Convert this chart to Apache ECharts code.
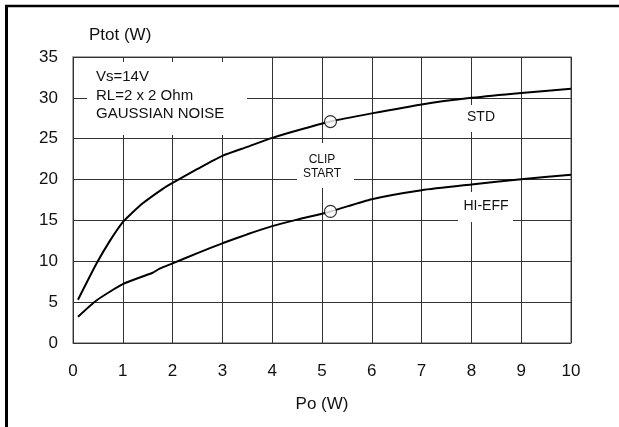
<!DOCTYPE html>
<html>
<head>
<meta charset="utf-8">
<script src="https://cdn.jsdelivr.net/npm/echarts@6/dist/echarts.min.js"></script>
<style>
  html, body { margin: 0; padding: 0; background: #fff; }
  #chart { width: 619px; height: 427px; }
</style>
</head>
<body>
<div id="chart"></div>
<script>
// Total dissipated power vs output power, two amplifier modes
const xTicks = [0, 1, 2, 3, 4, 5, 6, 7, 8, 9, 10];
const yTicks = [0, 5, 10, 15, 20, 25, 30, 35];

const stdPo   = [0.1, 0.47, 0.74, 1.0, 1.2, 1.4, 1.81, 2.0, 2.5, 3.0, 3.5, 4.0, 4.5, 5.17, 6, 7, 8, 9, 10];
const stdPtot = [5.3, 9.7, 12.5, 14.8, 16.0, 17.1, 18.9, 19.6, 21.3, 22.9, 24.0, 25.1, 26.0, 27.1, 28.1, 29.2, 30.0, 30.6, 31.1];

const hiPo    = [0.1, 0.47, 1.0, 1.6, 1.74, 2.0, 2.5, 3.0, 3.5, 4.0, 4.5, 5.17, 6, 7, 8, 9, 10];
const hiPtot  = [3.2, 5.2, 7.2, 8.6, 9.1, 9.75, 11.0, 12.2, 13.3, 14.3, 15.1, 16.1, 17.6, 18.7, 19.4, 20.05, 20.6];

// clipping onset on each curve
const clipPo   = [5.17, 5.17];
const clipPtot = [27.1, 16.1];

const FONT = '"Liberation Sans", Arial, Helvetica, sans-serif';
const zip = (xs, ys) => xs.map((x, i) => [x, ys[i]]);

const chart = echarts.init(document.getElementById('chart'), null, { renderer: 'canvas' });

chart.setOption({
  animation: false,
  backgroundColor: '#fff',
  grid: {
    left: 73, right: 48, top: 57, bottom: 84,
    show: true, borderColor: '#8a8a8a', borderWidth: 1.5, backgroundColor: 'transparent'
  },
  xAxis: {
    type: 'value',
    min: xTicks[0], max: xTicks[xTicks.length - 1], interval: 1,
    name: 'Po (W)', nameLocation: 'middle', nameGap: 53,
    nameTextStyle: { fontFamily: FONT, fontSize: 17, color: '#111' },
    axisLine: { show: false }, axisTick: { show: false },
    axisLabel: { fontFamily: FONT, fontSize: 17, color: '#111', margin: 20 },
    splitLine: { show: true, lineStyle: { color: '#333', width: 1 } }
  },
  yAxis: {
    type: 'value',
    min: yTicks[0], max: yTicks[yTicks.length - 1], interval: 5,
    name: 'Ptot (W)', nameLocation: 'end', nameGap: 13,
    nameTextStyle: { fontFamily: FONT, fontSize: 17, color: '#111', align: 'left', padding: [0, 0, 0, 16] },
    axisLine: { show: false }, axisTick: { show: false },
    axisLabel: { fontFamily: FONT, fontSize: 17, color: '#111', margin: 15 },
    splitLine: { show: true, lineStyle: { color: '#333', width: 1 } }
  },
  series: [
    {
      name: 'STD', type: 'line', data: zip(stdPo, stdPtot),
      smooth: 0.2, showSymbol: false, z: 5,
      lineStyle: { color: '#000', width: 2 }
    },
    {
      name: 'HI-EFF', type: 'line', data: zip(hiPo, hiPtot),
      smooth: 0.2, showSymbol: false, z: 5,
      lineStyle: { color: '#000', width: 2 }
    },
    {
      name: 'CLIP START', type: 'scatter', data: zip(clipPo, clipPtot),
      symbol: 'circle', symbolSize: 12, z: 10,
      itemStyle: { color: '#fff', borderColor: '#000', borderWidth: 1.2 }
    }
  ],
  graphic: [
    // page frame lines
    { type: 'line', z: 200, shape: { x1: 5, y1: 6, x2: 619, y2: 6 }, style: { stroke: '#000', lineWidth: 2.5 } },
    { type: 'line', z: 200, shape: { x1: 6.5, y1: 5, x2: 6.5, y2: 427 }, style: { stroke: '#000', lineWidth: 3 } },

    // test conditions
    { type: 'rect', z: 100, shape: { x: 87, y: 62, width: 160, height: 73 }, style: { fill: '#fff' } },
    { type: 'text', z: 101, left: 96, top: 68,
      style: { text: 'Vs=14V\nRL=2 x 2 Ohm\nGAUSSIAN NOISE', font: '15px ' + FONT, fill: '#111', lineHeight: 18.5 } },

    // clip start marker label
    { type: 'rect', z: 100, shape: { x: 297, y: 143, width: 57, height: 45 }, style: { fill: '#fff' } },
    { type: 'text', z: 101, x: 322, y: 167,
      style: { text: 'CLIP\nSTART', font: '12px ' + FONT, fill: '#111', lineHeight: 14, align: 'center', verticalAlign: 'middle' } },

    // curve names
    { type: 'rect', z: 100, shape: { x: 462, y: 105, width: 38, height: 27 }, style: { fill: '#fff' } },
    { type: 'text', z: 101, x: 481, y: 117,
      style: { text: 'STD', font: '14px ' + FONT, fill: '#111', align: 'center', verticalAlign: 'middle' } },
    { type: 'rect', z: 100, shape: { x: 458, y: 192, width: 55, height: 30 }, style: { fill: '#fff' } },
    { type: 'text', z: 101, x: 486, y: 206,
      style: { text: 'HI-EFF', font: '14px ' + FONT, fill: '#111', align: 'center', verticalAlign: 'middle' } }
  ]
});
</script>
</body>
</html>
